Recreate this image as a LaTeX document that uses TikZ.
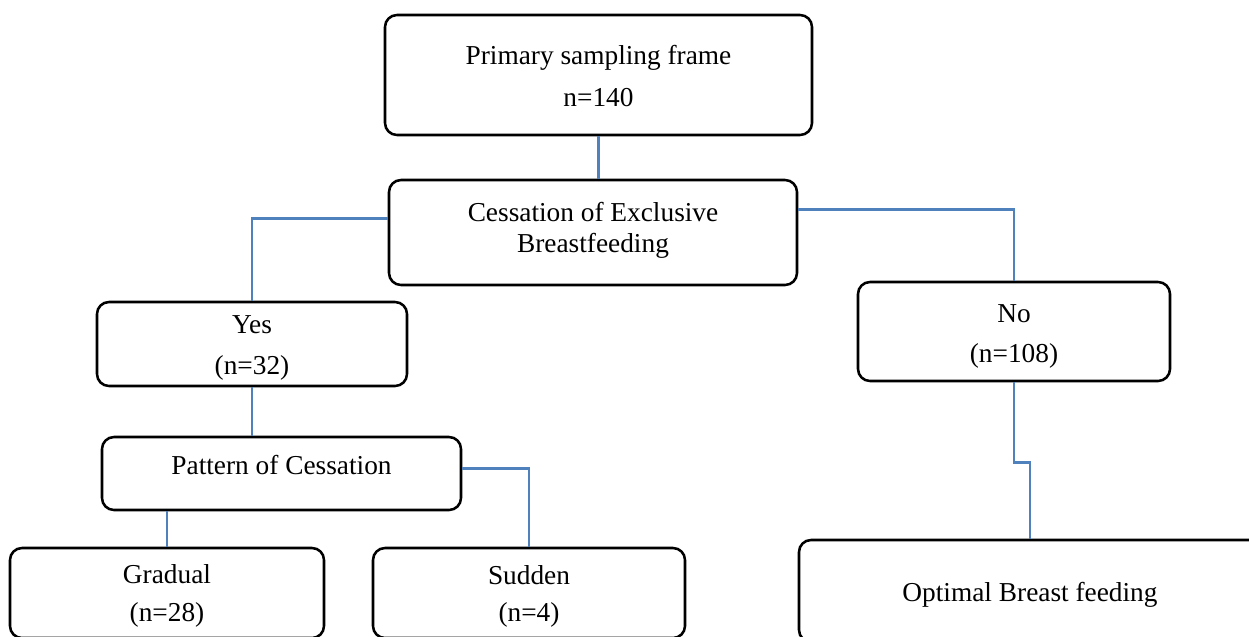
\documentclass[tikz,border=0pt]{standalone}
\usepackage{fontspec}
\setmainfont{Liberation Serif}
\definecolor{linkblue}{RGB}{79,129,189}
\begin{document}
\begin{tikzpicture}[x=0.75pt,y=-0.75pt,font=\fontsize{20.5pt}{30.5pt}\selectfont,
  box/.style={draw,line width=1.9pt,rounded corners=9pt,inner sep=0pt},
  txt/.style={align=center,inner sep=0pt},
  link/.style={draw=linkblue,line width=2pt}]
\useasboundingbox (0,0) rectangle (1249,636);
\clip (0,0) rectangle (1249,636);
\node[box,minimum width={427*0.75pt},minimum height={120*0.75pt},
  label={[txt,font=\fontsize{20.5pt}{31.5pt}\selectfont,yshift=-0.75pt]center:{Primary sampling frame\\n=140}}] (frame) at (598.5,75) {};
\node[box,minimum width={408*0.75pt},minimum height={105*0.75pt},
  label={[txt,font=\fontsize{20.5pt}{23.5pt}\selectfont,yshift=1.5pt]center:{Cessation of Exclusive\\Breastfeeding}}] (cess) at (593,232.5) {};
\node[box,minimum width={310*0.75pt},minimum height={84*0.75pt},
  label={[txt,yshift=-3pt]center:{Yes\\(n=32)}}] (yes) at (252,344) {};
\node[box,minimum width={312*0.75pt},minimum height={99*0.75pt},
  label={[txt,yshift=-3.75pt]center:{No\\(n=108)}}] (no) at (1014,331.5) {};
\node[box,minimum width={359*0.75pt},minimum height={73*0.75pt},
  label={[txt,yshift=6pt]center:{Pattern of Cessation}}] (pat) at (281.5,473.5) {};
\node[box,minimum width={314*0.75pt},minimum height={90*0.75pt},
  label={[txt,font=\fontsize{20.5pt}{28pt}\selectfont,yshift=-2.25pt]center:{Gradual\\(n=28)}}] (grad) at (167,593) {};
\node[box,minimum width={312*0.75pt},minimum height={90*0.75pt},
  label={[txt,font=\fontsize{20.5pt}{28pt}\selectfont,yshift=-2.6pt]center:{Sudden\\(n=4)}}] (sudd) at (529,593) {};
\node[box,minimum width={462*0.75pt},minimum height={102*0.75pt},
  label={[txt,yshift=-3pt]center:{Optimal Breast feeding}}] (optim) at (1030,591) {};
% connectors
\draw[link] (frame.south) -- (frame.south |- cess.north);
\draw[link] ([yshift=10.5pt]cess.west) -| (yes.north);
\draw[link] ([yshift=17.5pt]cess.east) -| (no.north);
\draw[link] (yes.south) -- (yes.south |- pat.north);
\draw[link] ([yshift=4pt]pat.east) -| (sudd.north);
\draw[link] (grad.north |- pat.south) -- (grad.north);
\draw[link] (no.south) -- ++(0,80) -| (optim.north);
\end{tikzpicture}
\end{document}
